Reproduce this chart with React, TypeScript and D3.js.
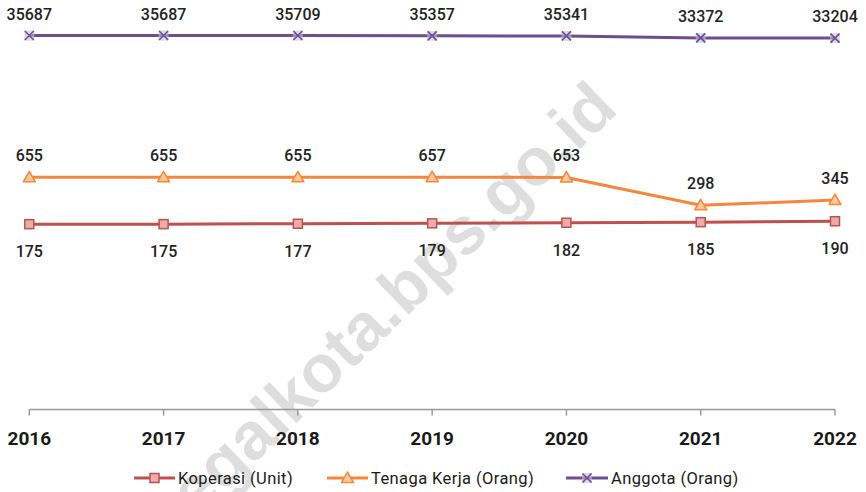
import React from "react";
import * as d3 from "d3";

const years = ["2016", "2017", "2018", "2019", "2020", "2021", "2022"];
const koperasi = [175, 175, 177, 179, 182, 185, 190];
const tenagaKerja = [655, 655, 655, 657, 653, 298, 345];
const anggota = [35687, 35687, 35709, 35357, 35341, 33372, 33204];
const seriesNames = ["Koperasi (Unit)", "Tenaga Kerja (Orang)", "Anggota (Orang)"];
const watermark = "tegalkota.bps.go.id";

const W = 866;
const H = 492;

type Series = {
  name: string;
  values: number[];
  color: string;
  fill: string;
  marker: "square" | "triangle" | "x";
  labelPos: "above" | "below";
};

const series: Series[] = [
  { name: seriesNames[0], values: koperasi, color: "#c0504d", fill: "#e8aeae", marker: "square", labelPos: "below" },
  { name: seriesNames[1], values: tenagaKerja, color: "#f7863a", fill: "#fcc89c", marker: "triangle", labelPos: "above" },
  { name: seriesNames[2], values: anggota, color: "#6b4f8e", fill: "#cbbde0", marker: "x", labelPos: "above" },
];

function Marker({ kind, x, y, color, fill }: { kind: string; x: number; y: number; color: string; fill: string }) {
  if (kind === "square") {
    return <rect x={x - 4.5} y={y - 4.5} width={9} height={9} fill={fill} stroke={color} strokeWidth={1.5} />;
  }
  if (kind === "triangle") {
    const p = `${x},${y - 6} ${x + 6},${y + 4.5} ${x - 6},${y + 4.5}`;
    return <polygon points={p} fill={fill} stroke={color} strokeWidth={1.5} strokeLinejoin="round" />;
  }
  return (
    <g>
      <rect x={x - 5} y={y - 5} width={10} height={10} fill={fill} opacity={0.6} />
      <path d={`M${x - 4.5},${y - 4.5}L${x + 4.5},${y + 4.5}M${x - 4.5},${y + 4.5}L${x + 4.5},${y - 4.5}`} stroke={color} strokeWidth={1.6} />
    </g>
  );
}

export default function App() {
  const x = d3.scalePoint<string>().domain(years).range([29.3, 835]);
  const y = d3.scaleLog().domain([1, 100000]).range([407.3, -1]);
  const axisY = 409.5;
  const line = d3
    .line<number>()
    .x((_, i) => x(years[i]) as number)
    .y((v) => y(v));

  const legendItems = [
    { s: series[0], x0: 134, x1: 175, tx: 178 },
    { s: series[1], x0: 327, x1: 368, tx: 371 },
    { s: series[2], x0: 566, x1: 608, tx: 611 },
  ];
  const legendY = 478;

  return (
    <svg
      width={W}
      height={H}
      style={{ position: "fixed", top: 0, left: 0, background: "#fff" }}
      fontFamily="Roboto, 'Noto Sans', sans-serif"
    >
      <rect width={W} height={H} fill="#fff" />
      {/* watermark */}
      <text
        x={400}
        y={323}
        transform="rotate(-44 400 323)"
        textAnchor="middle"
        fontFamily="'Liberation Sans', Arial, sans-serif"
        fontWeight={700}
        fontSize={67}
        fill="#000"
        fillOpacity={0.13}
      >
        {watermark}
      </text>

      {/* x axis */}
      <line x1={29.3} x2={835} y1={axisY} y2={axisY} stroke="#999" strokeWidth={1.5} />
      {years.map((yr) => (
        <g key={yr}>
          <line x1={x(yr)} x2={x(yr)} y1={axisY} y2={axisY + 6} stroke="#999" strokeWidth={1.5} />
          <text x={x(yr)} y={445} textAnchor="middle" fontSize={19} fontWeight={700} fill="#1a1a1a">
            {yr}
          </text>
        </g>
      ))}

      {/* lines */}
      {series.map((s) => (
        <path key={s.name} d={line(s.values) || ""} fill="none" stroke={s.color} strokeWidth={3} strokeLinejoin="round" />
      ))}
      {series.map((s) =>
        s.values.map((v, i) => (
          <Marker key={s.name + i} kind={s.marker} x={x(years[i]) as number} y={y(v)} color={s.color} fill={s.fill} />
        ))
      )}
      {series.map((s) =>
        s.values.map((v, i) => (
          <text
            key={"l" + s.name + i}
            x={x(years[i]) as number}
            y={s.labelPos === "above" ? y(v) - 16 : y(v) + 33}
            textAnchor="middle"
            fontSize={16}
            fontWeight={500}
            fill="#222"
          >
            {v}
          </text>
        ))
      )}

      {/* legend */}
      {legendItems.map(({ s, x0, x1, tx }) => (
        <g key={"lg" + s.name}>
          <line x1={x0} x2={x1} y1={legendY} y2={legendY} stroke={s.color} strokeWidth={3} />
          <Marker kind={s.marker} x={(x0 + x1) / 2} y={legendY} color={s.color} fill={s.fill} />
          <text x={tx} y={legendY + 6} fontSize={16.5} letterSpacing={0.4} fill="#1a1a1a">
            {s.name}
          </text>
        </g>
      ))}
    </svg>
  );
}
